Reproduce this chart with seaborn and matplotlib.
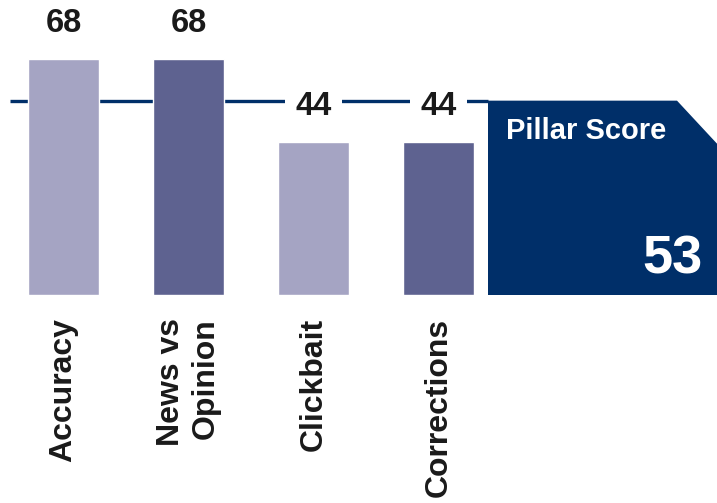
import numpy as np
import pandas as pd
import matplotlib.pyplot as plt
import seaborn as sns
from matplotlib.patches import Polygon

categories = ['Accuracy', 'News vs\nOpinion', 'Clickbait', 'Corrections']
scores = [68, 68, 44, 44]
bar_colors = ['#A5A4C3', '#5E6290', '#A5A4C3', '#5E6290']
pillar_label = 'Pillar Score'
pillar_score = 53

navy = '#002F69'

sns.set_theme(style='white')
plt.rcParams['font.family'] = ['Liberation Sans', 'DejaVu Sans']
plt.rcParams['font.weight'] = 'bold'

fig = plt.figure(figsize=(7.17, 5.03), dpi=100)
ax = fig.add_axes([0, 208 / 503, 1, 295 / 503])

df = pd.DataFrame({'category': categories, 'score': scores})
sns.barplot(data=df, x='category', y='score', hue='category', palette=bar_colors,
            width=0.57, saturation=1, legend=False, ax=ax, zorder=3)

avg = np.mean(scores)
box_left, box_right, notch_x = 3.396, 5.228, 4.908

# average line behind the bars
ax.hlines(avg, -0.43, box_left, color=navy, lw=2.4, zorder=1)

# value labels, white box cuts the line
for i, v in enumerate(scores):
    ax.text(i, v + 10.3, str(v), ha='center', va='center', fontsize=23.5,
            fontweight='bold', color='#1a1a1a', zorder=4,
            bbox=dict(facecolor='white', edgecolor='none', boxstyle='square,pad=0.33'))

# pillar score panel
notch_drop = 12.4
panel = Polygon([(box_left, 0), (box_left, avg), (notch_x, avg),
                 (box_right, avg - notch_drop), (box_right, 0)],
                closed=True, facecolor=navy, edgecolor='none', zorder=2)
ax.add_patch(panel)
ax.text(3.54, 47.3, pillar_label, color='white', fontsize=21, fontweight='bold',
        ha='left', va='center', zorder=4)
ax.text(5.116, 6.3, str(pillar_score), color='white', fontsize=39, fontweight='bold',
        ha='right', va='baseline', zorder=4)

ax.set_xlim(-0.508, 5.228)
ax.set_ylim(0, 85.0)
ax.set_xlabel('')
ax.set_ylabel('')
ax.set_yticks([])
ax.set_xticks(range(len(categories)))
ax.set_xticklabels(categories, rotation=90, fontsize=23, fontweight='bold',
                   color='#1a1a1a', multialignment='right')
ax.tick_params(axis='x', length=0, pad=16.5)
for s in ax.spines.values():
    s.set_visible(False)

fig.savefig('out.png', dpi=100)
